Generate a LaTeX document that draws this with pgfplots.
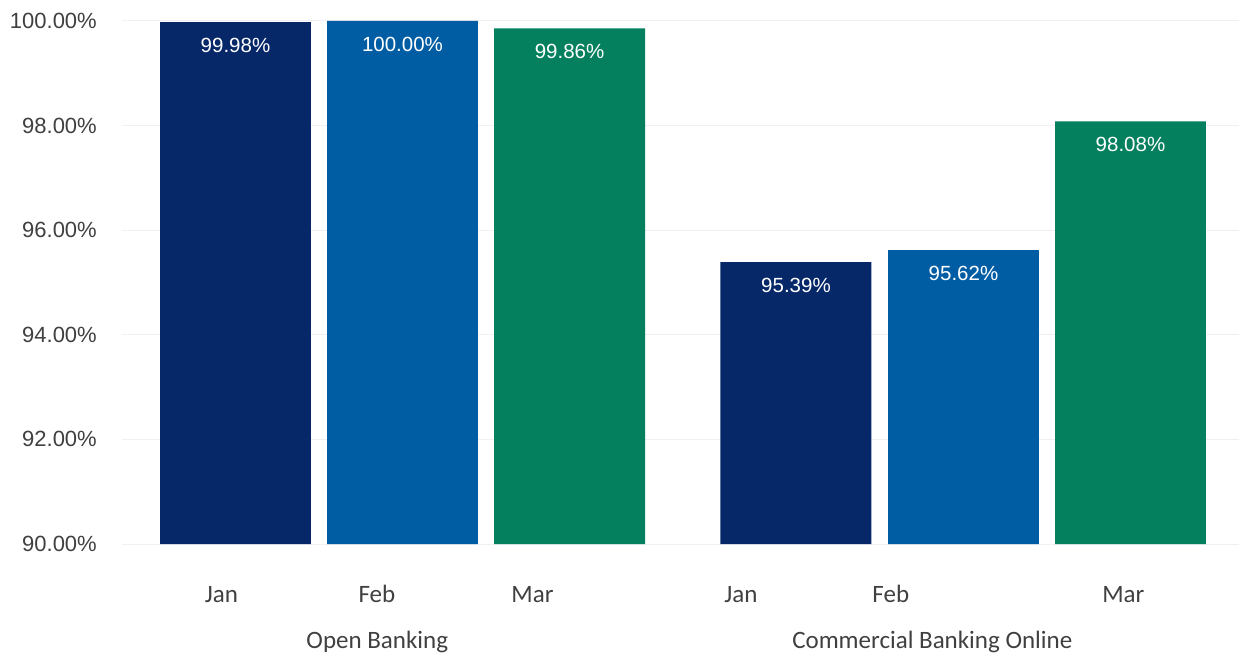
\documentclass[border=0pt]{standalone}
\usepackage{pgfplots}
\pgfplotsset{compat=1.18}
\usepackage{fontspec}
\setmainfont{Liberation Sans}
\newfontfamily\carlito{Carlito}
\definecolor{cnavy}{HTML}{062768}
\definecolor{cblue}{HTML}{005DA3}
\definecolor{cgreen}{HTML}{04805E}
\definecolor{ctext}{HTML}{404040}
\definecolor{cgrid}{HTML}{EEF0F4}
\begin{document}
\begin{tikzpicture}[x=1pt,y=1pt]
\useasboundingbox (0,0) rectangle (1239,656);
\begin{axis}[
  at={(122pt,112pt)}, anchor=south west,
  scale only axis, width=1117pt, height=523pt,
  xmin=-0.6796, xmax=6.009, ymin=90, ymax=100,
  ytick={90,92,94,96,98,100},
  ymajorgrids, major grid style={cgrid, line width=1pt},
  axis line style={draw=none}, tick style={draw=none},
  /pgf/number format/assume math mode=true,
  yticklabel={\pgfmathprintnumber[fixed,fixed zerofill,precision=2]{\tick}\%},
  yticklabel style={font=\fontsize{22}{26}\selectfont, text=ctext, inner sep=0pt, xshift=-25pt},
  xtick={-0.084,0.847,1.778,3.026,3.924,5.316},
  xticklabels={Jan,Feb,Mar,Jan,Feb,Mar},
  xticklabel style={font=\carlito\fontsize{25}{30}\selectfont, text=ctext, anchor=base, inner sep=0pt, yshift=-54pt},
  ybar, bar width=0.904, bar shift=0pt,
  nodes near coords={\pgfmathprintnumber[fixed,fixed zerofill,precision=2]{\pgfplotspointmeta}\%},
  nodes near coords style={font=\fontsize{20.5}{24}\selectfont, text=white, anchor=center, yshift=-23.5pt},
  clip mode=individual,
]
\addplot[fill=cnavy, draw=none] coordinates {(0,99.98) (3.356,95.39)};
\addplot[fill=cblue, draw=none] coordinates {(1,100.00) (4.359,95.62)};
\addplot[fill=cgreen, draw=none] coordinates {(2,99.86) (5.359,98.08)};
\node[font=\carlito\fontsize{25}{30}\selectfont, text=ctext, anchor=base, inner sep=0pt] at (axis cs:0.849,90) [yshift=-104pt] {Open Banking};
\node[font=\carlito\fontsize{25}{30}\selectfont, text=ctext, anchor=base, inner sep=0pt] at (axis cs:4.172,90) [yshift=-104pt] {Commercial Banking Online};
\end{axis}
\end{tikzpicture}
\end{document}
